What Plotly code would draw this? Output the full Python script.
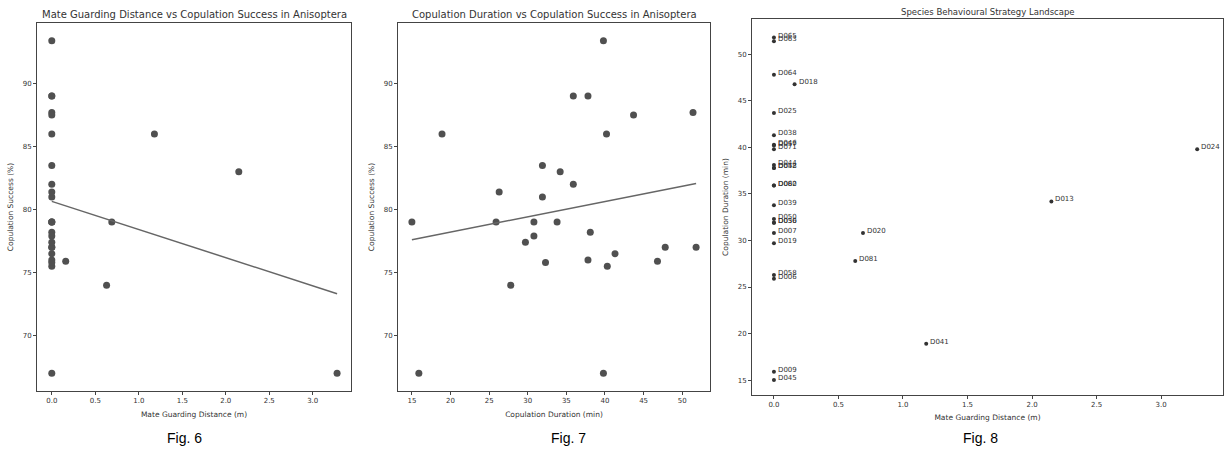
import numpy as np
import plotly.graph_objects as go

# ---- data ----
species_ids = ["D065", "D063", "D064", "D025", "D038", "D046", "D057", "D071",
               "D044", "D048", "D052", "D060", "D082", "D039", "D050", "D056",
               "D030", "D007", "D019", "D058", "D006", "D009", "D045",
               "D018", "D081", "D020", "D041", "D013", "D024"]
guarding_distance = [0.0, 0.0, 0.0, 0.0, 0.0, 0.0, 0.0, 0.0,
                     0.0, 0.0, 0.0, 0.0, 0.0, 0.0, 0.0, 0.0,
                     0.0, 0.0, 0.0, 0.0, 0.0, 0.0, 0.0,
                     0.16, 0.63, 0.69, 1.18, 2.15, 3.28]
copulation_duration = [51.8, 51.4, 47.8, 43.7, 41.3, 40.3, 40.2, 39.8,
                       38.1, 37.8, 37.8, 35.9, 35.9, 33.8, 32.3, 31.9,
                       31.9, 30.8, 29.7, 26.3, 25.9, 15.9, 15.0,
                       46.8, 27.8, 30.8, 18.9, 34.2, 39.8]
copulation_success = [77.0, 87.7, 77.0, 87.5, 76.5, 75.5, 86.0, 93.4,
                      78.2, 89.0, 76.0, 89.0, 82.0, 79.0, 75.8, 83.5,
                      81.0, 77.9, 77.4, 81.4, 79.0, 67.0, 79.0,
                      75.9, 74.0, 79.0, 86.0, 83.0, 67.0]

titles = ["Mate Guarding Distance vs Copulation Success in Anisoptera",
          "Copulation Duration vs Copulation Success in Anisoptera",
          "Species Behavioural Strategy Landscape"]
fig_labels = ["Fig. 6", "Fig. 7", "Fig. 8"]

W, H = 1226, 452
FONT = "DejaVu Sans"
TXT = "#333333"
DOT = "#505050"
LINE = "#666666"

fig = go.Figure()

def fit_line(x, y):
    x = np.asarray(x, float)
    y = np.asarray(y, float)
    m, b = np.polyfit(x, y, 1)
    xs = np.array([x.min(), x.max()])
    return xs, m * xs + b

# Panel 1
fig.add_trace(go.Scatter(x=guarding_distance, y=copulation_success, mode="markers",
                         marker=dict(size=7, color=DOT), xaxis="x", yaxis="y",
                         showlegend=False))
lx, ly = fit_line(guarding_distance, copulation_success)
fig.add_trace(go.Scatter(x=lx, y=ly, mode="lines", line=dict(color=LINE, width=1.5),
                         xaxis="x", yaxis="y", showlegend=False))

# Panel 2
fig.add_trace(go.Scatter(x=copulation_duration, y=copulation_success, mode="markers",
                         marker=dict(size=7, color=DOT), xaxis="x2", yaxis="y2",
                         showlegend=False))
lx2, ly2 = fit_line(copulation_duration, copulation_success)
fig.add_trace(go.Scatter(x=lx2, y=ly2, mode="lines", line=dict(color=LINE, width=1.5),
                         xaxis="x2", yaxis="y2", showlegend=False))

# Panel 3
fig.add_trace(go.Scatter(x=guarding_distance, y=copulation_duration, mode="markers",
                         marker=dict(size=4, color="#333333"), xaxis="x3", yaxis="y3",
                         showlegend=False))

annotations = []
for sid, gx, dy in zip(species_ids, guarding_distance, copulation_duration):
    annotations.append(dict(x=gx, y=dy, xref="x3", yref="y3", text=sid,
                            showarrow=False, xanchor="left", yanchor="middle",
                            xshift=2, yshift=2,
                            font=dict(family=FONT, size=7, color="#333333")))

def px_x(p):
    return p / W

def px_y(p):
    return 1 - p / H

# Fig labels
for lab, cx in zip(fig_labels, [184, 568, 980]):
    annotations.append(dict(x=px_x(cx), y=px_y(438), xref="paper", yref="paper",
                            text=lab, showarrow=False, xanchor="center", yanchor="middle",
                            font=dict(family="Liberation Sans", size=14, color="black")))

# Titles
for t, cx, cy, fs in zip(titles, [194, 554, 988], [14, 14, 12], [10, 10, 8.5]):
    annotations.append(dict(x=px_x(cx), y=px_y(cy), xref="paper", yref="paper",
                            text=t, showarrow=False, xanchor="center", yanchor="middle",
                            font=dict(family=FONT, size=fs, color=TXT)))

axis_common = dict(showline=True, linecolor="#444444", linewidth=1, mirror=True,
                   ticks="outside", ticklen=3, tickcolor="#444444", showgrid=False,
                   zeroline=False, tickfont=dict(family=FONT, size=7, color=TXT),
                   title_font=dict(family=FONT, size=7.5, color=TXT))

fig.update_layout(
    width=W, height=H, margin=dict(l=0, r=0, t=0, b=0),
    paper_bgcolor="white", plot_bgcolor="white",
    annotations=annotations,
    xaxis=dict(domain=[px_x(37), px_x(351)], range=[-0.17, 3.44], anchor="y",
               tickvals=[0, 0.5, 1.0, 1.5, 2.0, 2.5, 3.0], tickformat=".1f",
               title=dict(text="Mate Guarding Distance (m)", standoff=7), **axis_common),
    yaxis=dict(domain=[px_y(391), px_y(23)], range=[65.6, 94.8], anchor="x",
               tickvals=[70, 75, 80, 85, 90],
               title=dict(text="Copulation Success (%)", standoff=8), **axis_common),
    xaxis2=dict(domain=[px_x(398), px_x(710)], range=[13.2, 53.6], anchor="y2",
                tickvals=[15, 20, 25, 30, 35, 40, 45, 50],
                title=dict(text="Copulation Duration (min)", standoff=7), **axis_common),
    yaxis2=dict(domain=[px_y(391), px_y(23)], range=[65.6, 94.8], anchor="x2",
                tickvals=[70, 75, 80, 85, 90],
                title=dict(text="Copulation Success (%)", standoff=8), **axis_common),
    xaxis3=dict(domain=[px_x(752), px_x(1223)], range=[-0.17, 3.48], anchor="y3",
                tickvals=[0, 0.5, 1.0, 1.5, 2.0, 2.5, 3.0], tickformat=".1f",
                title=dict(text="Mate Guarding Distance (m)", standoff=6), **axis_common),
    yaxis3=dict(domain=[px_y(395), px_y(19)], range=[13.4, 53.8], anchor="x3",
                tickvals=[15, 20, 25, 30, 35, 40, 45, 50],
                title=dict(text="Copulation Duration (min)", standoff=8), **axis_common),
)

fig.write_html("out.html", config={"displayModeBar": False},
               post_script="document.body.style.margin='0';document.body.style.overflow='hidden';")
